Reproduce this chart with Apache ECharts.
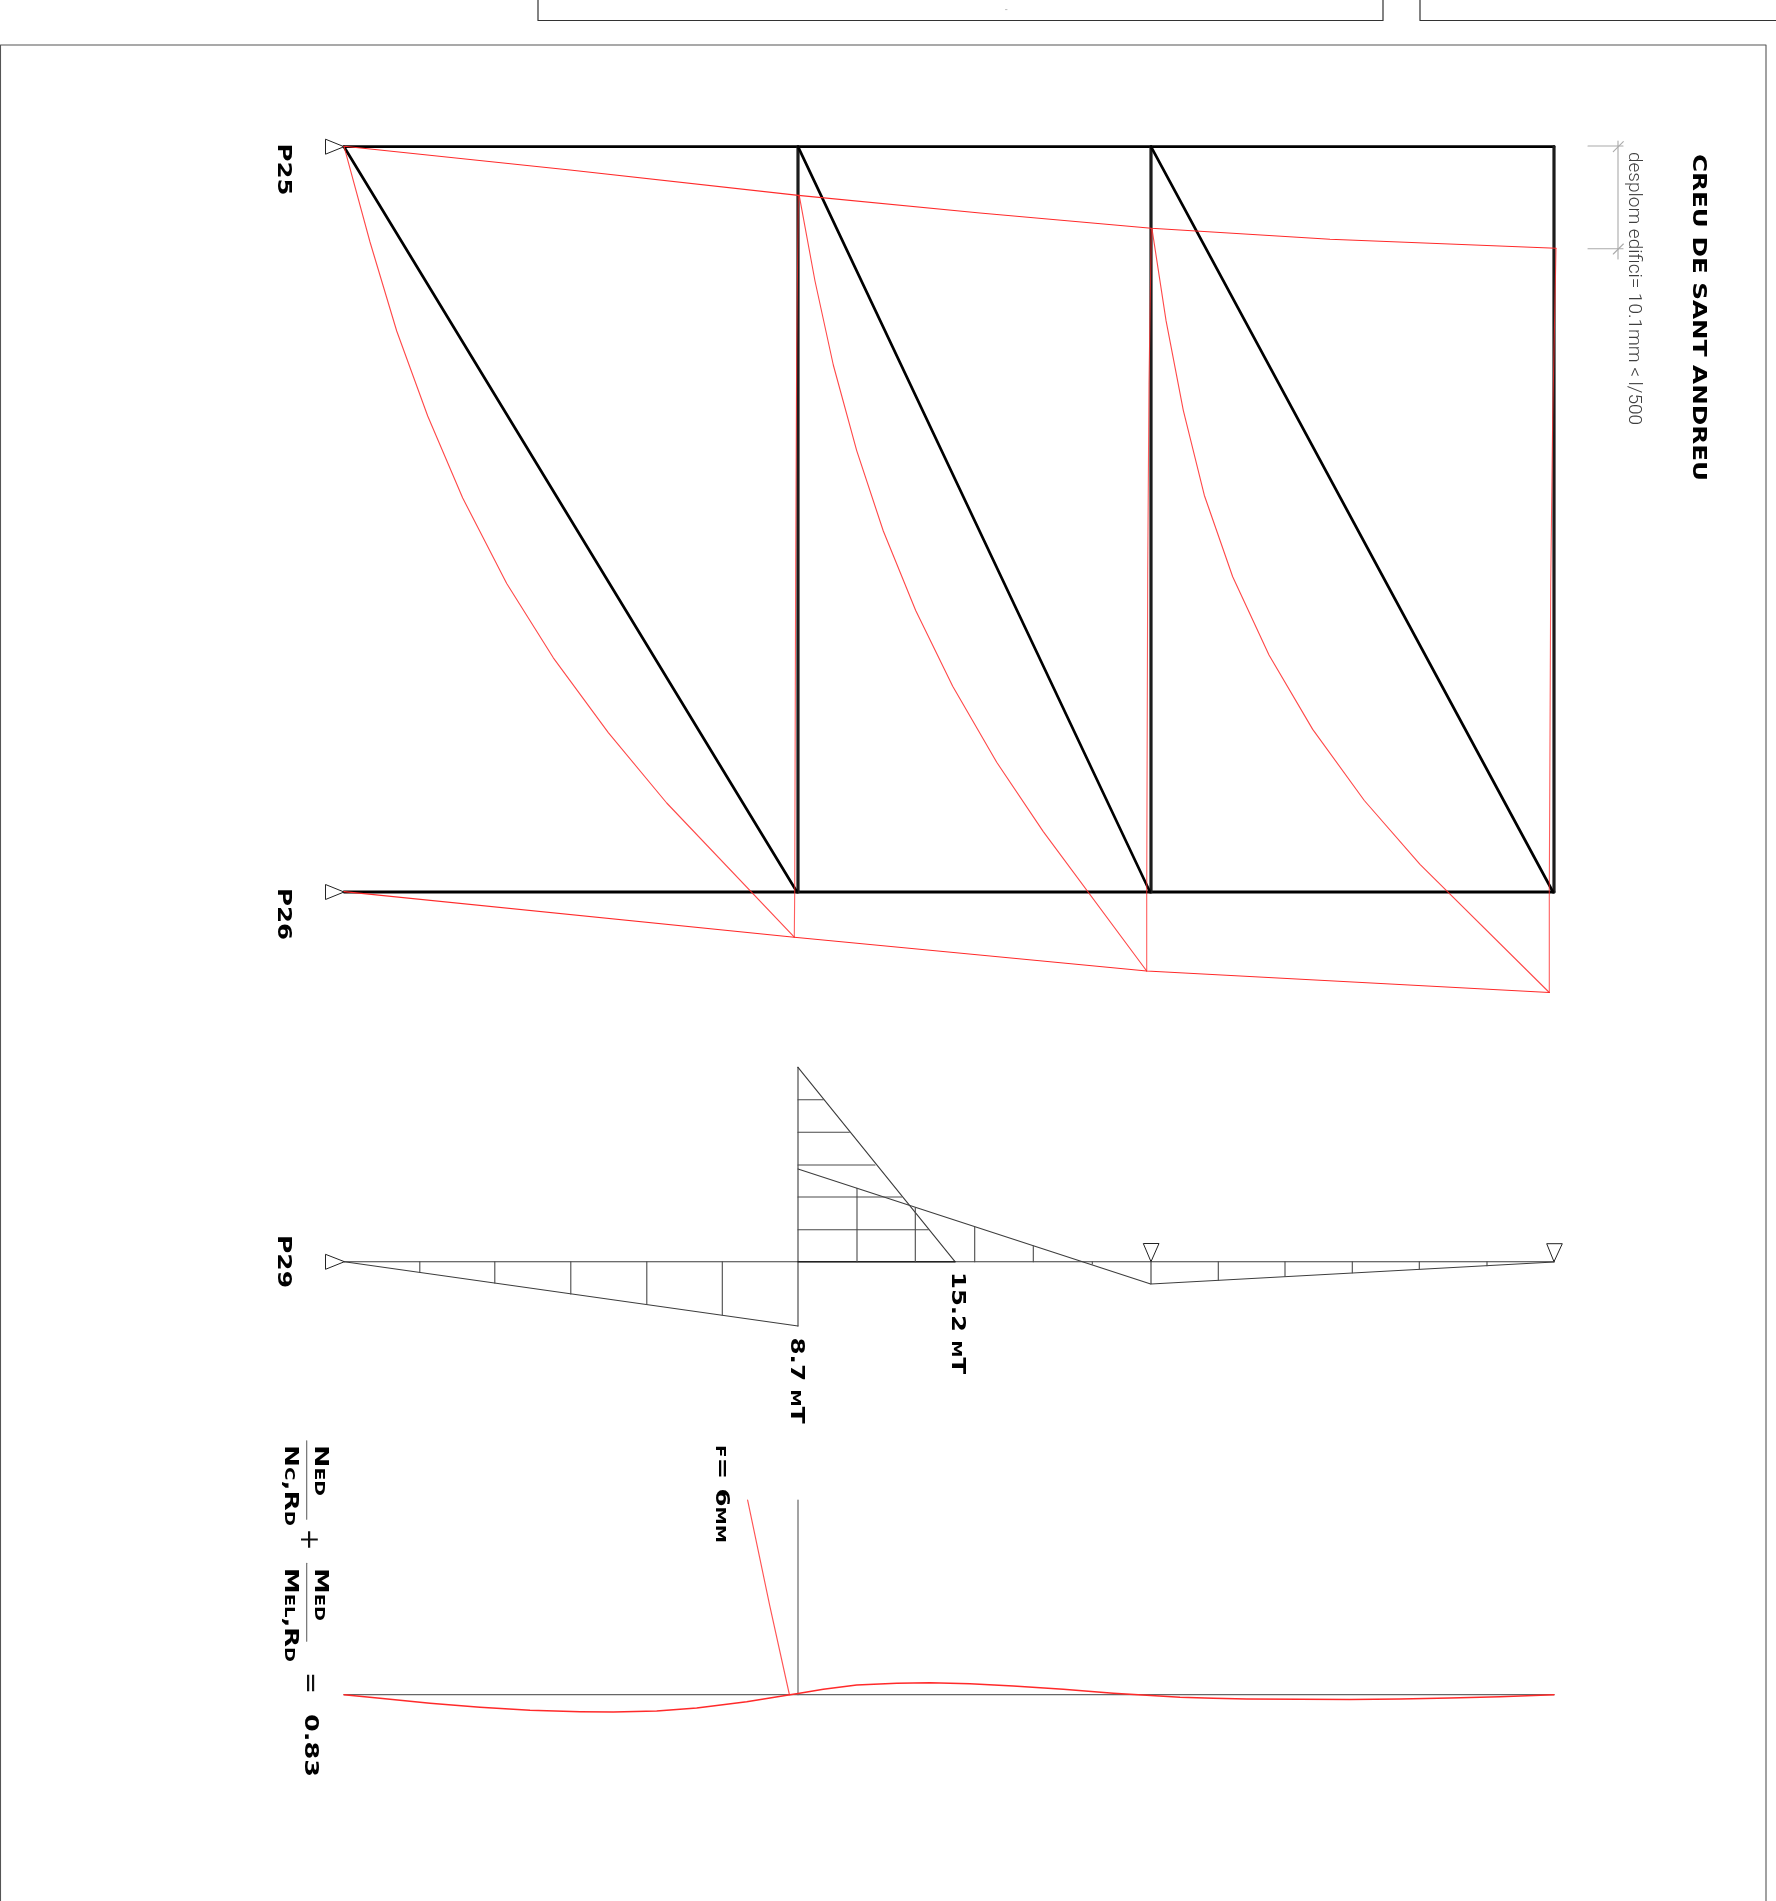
<!DOCTYPE html>
<html>
<head>
<meta charset="utf-8">
<style>html,body{margin:0;padding:0;background:#fff}#c{width:1776px;height:1901px}</style>
<script src="https://cdn.jsdelivr.net/npm/echarts@6/dist/echarts.min.js"></script>
</head>
<body>
<div id="c"></div>
<script>
// Sheet frames
const sheetBoxA = [[538,0],[538,20.5],[1383,20.5],[1383,0]];
const sheetBoxB = [[1420,0],[1420,20.5],[1776,20.5]];
const sheetSpeck = [[1005.5,9.6],[1007,9.6]];
const sheetFrame = [[0.5,1901],[0.5,45],[1766,45],[1766,1901]];

// Undeformed truss
const topChord = [[344,146.7],[1554,146.7]];
const bottomChord = [[344,892],[1554,892]];
const column1 = [[798,146.7],[798,892]];
const column2 = [[1151,146.7],[1151,892]];
const column3 = [[1554,146.7],[1554,892]];
const diagonal1 = [[344,146.7],[797,892]];
const diagonal2 = [[798,146.7],[1150,892]];
const diagonal3 = [[1151,146.7],[1553,892]];

// Deformed truss
const defTop = [[344,146.3],[570,170],[798.3,195.4],[980,213],[1151.3,228.2],[1330,239.3],[1556,248.2]];
const defBottom = [[344,891.6],[794.3,937.2],[1146.7,971],[1549.3,992.5]];
const defColumn1 = [[794.3,937.2],[794.7,891.6],[795.7,558],[796.7,349],[798.3,195.4]];
const defColumn2 = [[1146.7,971],[1146.7,891.8],[1147.7,573.6],[1149,384],[1151.3,228.2]];
const defColumn3 = [[1549.3,992.5],[1549.3,892],[1550.7,584],[1552.7,417.5],[1556,248.2]];
const defDiagonal1 = [[344,146.3],[370,242],[396.7,331],[427.7,416],[462.7,498],[506.7,583.5],[553.3,657.8],[608.3,732.6],[666.7,803],[794.3,937.2]];
const defDiagonal2 = [[799.3,195.8],[815,281],[833.3,365],[856.7,450.6],[883.3,531],[915.7,610.5],[952.7,686.3],[996.7,762.2],[1043.3,831.6],[1146.7,971]];
const defDiagonal3 = [[1152,228.8],[1166,320.4],[1183.3,410.3],[1204.3,495.2],[1232.7,576.8],[1269,655],[1312.7,729.4],[1364.3,800.5],[1420,864.3],[1549.3,992.5]];

// Building drift dimension
const dimension = [
  [[1588,146],[1623,146]],
  [[1588,248.7],[1623,248.7]],
  [[1618,141],[1618,259]],
  [[1613.3,151.7],[1623.3,141.7]],
  [[1613.3,254],[1623.3,244]]
];

// Supports
const supportP25 = [[344,146.7],[325.5,139.2],[325.5,154.2],[344,146.7]];
const supportP26 = [[344,892],[325.5,884.5],[325.5,899.5],[344,892]];
const supportP29 = [[344.4,1261.7],[325.5,1254.3],[325.5,1269.3],[344.4,1261.7]];
const supportCol2 = [[1151,1261.7],[1143.3,1243.5],[1159,1243.5],[1151,1261.7]];
const supportCol3 = [[1554,1261.7],[1546.7,1243.7],[1562.3,1243.7],[1554,1261.7]];

// Bending moment diagram
const momentBase = [[344.4,1261.7],[1554,1261.7]];
const momentBaseThick = [[798,1261.7],[955,1261.7]];
const momentColumn = [[798,1067.3],[798,1326]];
const momentSpan1 = [[344.4,1261.7],[798,1326]];
const momentSpan2Upper = [[798,1067.3],[955,1261.7]];
const momentSpan2Lower = [[798,1169],[1150.7,1284]];
const momentSpan3 = [[1151,1261.7],[1151,1284],[1554,1262]];
const hatchVertical = [
  [419.8,1261.7,1272.4],[494.8,1261.7,1283],[570.8,1261.7,1294],[646.8,1261.7,1304.5],[722.3,1261.7,1315],
  [857,1188.3,1261.7],[915.3,1207.7,1261.7],[974.7,1227,1261.7],[1033.3,1246,1261.7],[1092.3,1261.7,1264],
  [1218.3,1261.7,1280.3],[1285,1261.7,1276.3],[1352.3,1261.7,1272.7],[1419.3,1261.7,1269],[1487,1261.7,1265.7]
];
const hatchHorizontal = [
  [1099.7,798,823.3],[1132.3,798,849.3],[1165,798,875],[1197,798,901.7],[1229.7,798,928.3]
];

// Deflection diagram
const deflBase = [[344,1694.7],[1554,1694.7]];
const deflColumn = [[798,1500],[798,1694.7]];
const deflArrow = [[747.6,1500],[769.6,1605],[789.4,1694.7]];
const deflCurve = [[344,1694.7],[380,1698.3],[430,1703.3],[480,1707.3],[530,1710.3],[580,1711.7],[613.3,1712],[656.7,1711],[696.7,1708],[746.7,1701.7],[790,1694.7],[798,1693.5],[823.3,1689.3],[856.7,1685],[896.7,1683.3],[930,1682.7],[970,1683.7],[1013.3,1686],[1063.3,1689.3],[1113.3,1693.3],[1146.7,1695.3],[1180,1697.3],[1213.3,1698.3],[1246.7,1699],[1300,1699.3],[1350,1699.5],[1400,1699],[1450,1698],[1500,1696.8],[1554,1694.7]];
const fractionBar1 = [[306.7,1440.7],[306.7,1519.3]];
const fractionBar2 = [[306.7,1563.3],[306.7,1641.3]];

// Text
const labelTexts = ['CREU DE SANT ANDREU','desplom edifici= 10.1mm < l/500','P25','P26','P29','15.2 mT','8.7 mT','f= 6mm','Ned','Nc,Rd','+','Med','Mel,Rd','=','0.83'];
const labelCentreX = [1698.5,1633.5,283,283,283,957.5,796.5,721,320.5,290,308,320.5,290,308.5,310];
const labelStartY = [154,152,143.5,888,1235,1272,1337.5,1445,1445,1445,1528.5,1568,1568,1672,1714];
const labelLength = [327,273,52,52,53,102,86,98,51,81,22,53,94,22,63];
const labelKind = ['title','note','bold','bold','bold','bold','bold','bold','bold','bold','thin','bold','bold','thin','bold'];

const FONTS = {
  title: 'bold 19.5px "DejaVu Sans"',
  bold: 'small-caps bold 20px "DejaVu Sans"',
  note: '300 18.5px Roboto',
  thin: '26px "DejaVu Sans"'
};
const FILLS = {title:'#000', bold:'#000', note:'#3f3f3f', thin:'#111'};

const RED = '#ff2a2a', INK = '#3d3d3d', BLACK = '#000';
function poly(points, color, width){
  return {type:'line', data:points, symbol:'none', silent:true, animation:false, clip:false,
          smooth:false, lineStyle:{color:color, width:width, cap:'round', join:'round'}};
}
const series = [];
[sheetBoxA,sheetBoxB].forEach(p=>series.push(poly(p,'#333',1.2)));
series.push(poly(sheetSpeck,'#bbb',1));
series.push(poly(sheetFrame,'#555',1.1));
[topChord,bottomChord].forEach(p=>series.push(poly(p,BLACK,2.8)));
[column1,column2,column3].forEach(p=>series.push(poly(p,'#1c1c1c',3.2)));
[diagonal1,diagonal2,diagonal3].forEach(p=>series.push(poly(p,BLACK,2.7)));
dimension.forEach(p=>series.push(poly(p,'#aaaaaa',1.1)));
[supportP25,supportP26,supportP29,supportCol2,supportCol3].forEach(p=>series.push(poly(p,'#222',1)));
[momentBase,momentColumn,momentSpan1,momentSpan2Upper,momentSpan2Lower,momentSpan3].forEach(p=>series.push(poly(p,INK,1.1)));
series.push(poly(momentBaseThick,'#222',1.4));
hatchVertical.forEach(h=>series.push(poly([[h[0],h[1]],[h[0],h[2]]],'#4a4a4a',1.1)));
hatchHorizontal.forEach(h=>series.push(poly([[h[1],h[0]],[h[2],h[0]]],'#4a4a4a',1.1)));
[deflBase,deflColumn].forEach(p=>series.push(poly(p,'#666',1.2)));
[fractionBar1,fractionBar2].forEach(p=>series.push(poly(p,'#666',1.1)));
[defColumn1,defColumn2,defColumn3].forEach(p=>series.push(poly(p,'rgba(255,40,40,0.75)',1.1)));
[defDiagonal1,defDiagonal2,defDiagonal3].forEach(p=>series.push(poly(p,'rgba(255,40,40,0.85)',1.1)));
[defTop,defBottom].forEach(p=>series.push(poly(p,RED,1.1)));
series.push(poly(deflArrow,'rgba(255,40,40,0.8)',1.2));
series.push(poly(deflCurve,RED,1.4));

const measure = document.createElement('canvas').getContext('2d');
series.push({
  type:'custom', coordinateSystem:'cartesian2d', silent:true, animation:false, clip:false,
  data: labelTexts.map((t,i)=>[labelCentreX[i],labelStartY[i]]),
  renderItem:function(params,api){
    const i = params.dataIndex;
    const pt = api.coord([api.value(0),api.value(1)]);
    const font = FONTS[labelKind[i]];
    measure.font = font;
    const w = measure.measureText(labelTexts[i]).width;
    return {type:'text', x:pt[0], y:pt[1], rotation:-Math.PI/2, scaleX:labelLength[i]/w,
      style:{text:labelTexts[i], font:font, fill:FILLS[labelKind[i]], align:'left', verticalAlign:'middle'}};
  }
});

const chart = echarts.init(document.getElementById('c'), null, {width:1776, height:1901});
chart.setOption({
  backgroundColor:'#fff',
  animation:false,
  grid:{left:0,right:0,top:0,bottom:0,containLabel:false},
  xAxis:{type:'value',min:0,max:1776,show:false},
  yAxis:{type:'value',min:0,max:1901,inverse:true,show:false},
  tooltip:{show:false},
  legend:{show:false},
  series:series
});
</script>
</body>
</html>
